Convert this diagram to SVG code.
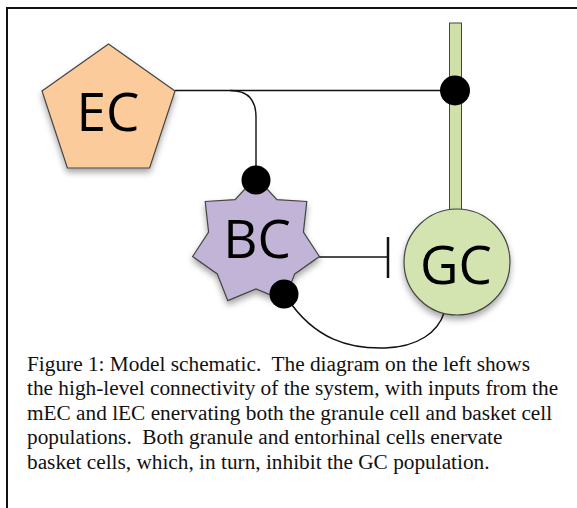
<svg xmlns="http://www.w3.org/2000/svg" width="577" height="508" viewBox="0 0 577 508">
  <defs>
    <filter id="shadow" x="-30%" y="-30%" width="160%" height="170%">
      <feDropShadow dx="0" dy="4" stdDeviation="3" flood-color="#000" flood-opacity="0.35"/>
    </filter>
    <style>
      .frame { fill: none; stroke: #111; stroke-width: 2; }
      .wire { fill: none; stroke: #111; stroke-width: 1.4; }
      .syn { fill: #000; }
      .cell { stroke: #444; stroke-width: 1.2; filter: url(#shadow); }
      .label { font-family: "Open Sans", "Noto Sans", sans-serif; font-size: 53px; fill: #000; text-anchor: middle; }
      .caption { font-family: "Liberation Serif", "Times New Roman", serif; font-size: 21.3px; fill: #111; white-space: pre; }
    </style>
  </defs>

  <rect width="577" height="508" fill="#fff"/>
  <!-- outer frame, open to the right and bottom -->
  <path class="frame" d="M7,510 V8 H580"/>

  <!-- GC axon -->
  <g id="gc-axon">
    <rect x="449.5" y="23" width="12" height="195" fill="#CFE0A9" stroke="#444" stroke-width="1"/>
  </g>

  <g id="connectors">
    <!-- EC to GC axon, with branch down to BC -->
    <path class="wire" d="M175,90.5 H455"/>
    <path class="wire" d="M230,90.5 Q256,90.5 256,117 V180"/>
    <!-- BC inhibits GC -->
    <path class="wire" d="M319,257 H388"/>
    <path d="M388,237 V278" stroke="#111" stroke-width="2.5"/>
    <!-- GC back onto BC -->
    <path class="wire" d="M287,298 C315,340 350,349 385,348 C418,347 438,332 444,313"/>
  </g>

  <g id="EC">
    <polygon class="cell" fill="#FCCB9B" points="108.5,44 175,91 149.6,168 67.4,168 42,91"/>
    <text class="label" x="108" y="131">EC</text>
  </g>

  <g id="BC">
    <polygon class="cell" fill="#C2B4D7" points="256,177 276.9,199.6 306.8,201.5 303.4,232.1 319.4,256.5 294.7,274 284.2,300.6 256,289 227.8,300.6 217.3,274 192.6,256.5 208.6,232.1 205.2,201.5 235.1,199.6"/>
    <text class="label" x="257" y="258">BC</text>
  </g>

  <g id="GC">
    <circle class="cell" fill="#D4E4B1" cx="457" cy="262" r="53"/>
    <text class="label" x="456" y="284">GC</text>
  </g>

  <g id="synapses">
    <circle class="syn" cx="455" cy="90.5" r="15"/>
    <circle class="syn" cx="256" cy="180" r="14.5"/>
    <circle class="syn" cx="284" cy="294" r="14.5"/>
  </g>

  <g id="caption">
    <text class="caption" x="27" y="371">Figure 1: Model schematic.  The diagram on the left shows</text>
    <text class="caption" x="27" y="395">the high-level connectivity of the system, with inputs from the</text>
    <text class="caption" x="27" y="420">mEC and lEC enervating both the granule cell and basket cell</text>
    <text class="caption" x="27" y="444">populations.  Both granule and entorhinal cells enervate</text>
    <text class="caption" x="27" y="469">basket cells, which, in turn, inhibit the GC population.</text>
  </g>
</svg>
